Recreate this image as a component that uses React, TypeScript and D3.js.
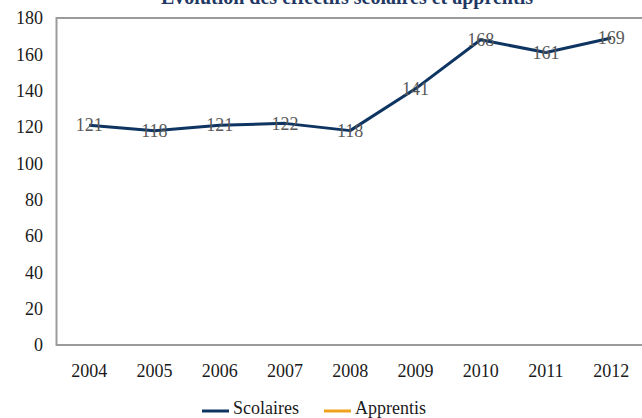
import React from "react";
import * as d3 from "d3";

const years = ["2004", "2005", "2006", "2007", "2008", "2009", "2010", "2011", "2012"];
const scolaires = [121, 118, 121, 122, 118, 141, 168, 161, 169];
const apprentis: (number | null)[] = [null, null, null, null, null, null, null, null, null];
const yTicks = [0, 20, 40, 60, 80, 100, 120, 140, 160, 180];
const seriesNames = ["Scolaires", "Apprentis"];
const seriesColors = ["#0E3461", "#F0A11E"];
const title = "Évolution des effectifs scolaires et apprentis";

const W = 642;
const H = 418;
const FONT = "'Liberation Serif', 'Times New Roman', serif";

export default function App() {
  const left = 56.5;
  const top = 18;
  const bottom = 345;
  const step = (611 - 89) / 8;
  const x = d3.scaleBand<string>().domain(years).range([left, left + step * years.length]).padding(0);
  const y = d3.scaleLinear().domain([0, 180]).range([bottom, top]);
  const cx = (yr: string) => (x(yr) as number) + x.bandwidth() / 2;

  const line = d3
    .line<number | null>()
    .defined((d) => d != null)
    .x((_, i) => cx(years[i]))
    .y((d) => y(d as number));

  return (
    <svg width={W} height={H} style={{ position: "absolute", left: 0, top: 0, display: "block" }} fontFamily={FONT}>
      <rect x={0} y={0} width={W} height={H} fill="#ffffff" />
      <text x={347} y={4} textAnchor="middle" fontSize={20} fontWeight="bold" fill="#1F3864">
        {title}
      </text>
      <rect x={left} y={y(180)} width={W + 40} height={bottom - y(180)} fill="none" stroke="#9b9b9b" strokeWidth={2} />
      {yTicks.map((t) => (
        <text key={t} x={43} y={y(t)} dy="0.35em" textAnchor="end" fontSize={18} fill="#1a1a1a">
          {t}
        </text>
      ))}
      {years.map((yr) => (
        <text key={yr} x={cx(yr)} y={371} dy="0.35em" textAnchor="middle" fontSize={18} fill="#1a1a1a">
          {yr}
        </text>
      ))}
      <path d={line(apprentis) || ""} fill="none" stroke={seriesColors[1]} strokeWidth={3} />
      <path d={line(scolaires) || ""} fill="none" stroke={seriesColors[0]} strokeWidth={3} strokeLinejoin="round" />
      {scolaires.map((v, i) => (
        <text key={i} x={cx(years[i])} y={y(v)} dy="0.35em" textAnchor="middle" fontSize={18} fill="#595959">
          {v}
        </text>
      ))}
      {seriesNames.map((n, i) => {
        const lx = i === 0 ? 202 : 324;
        return (
          <g key={n}>
            <line x1={lx} x2={lx + 27} y1={411} y2={411} stroke={seriesColors[i]} strokeWidth={3} />
            <text x={lx + 31} y={408} dy="0.35em" fontSize={18} fill="#1a1a1a">
              {n}
            </text>
          </g>
        );
      })}
    </svg>
  );
}
